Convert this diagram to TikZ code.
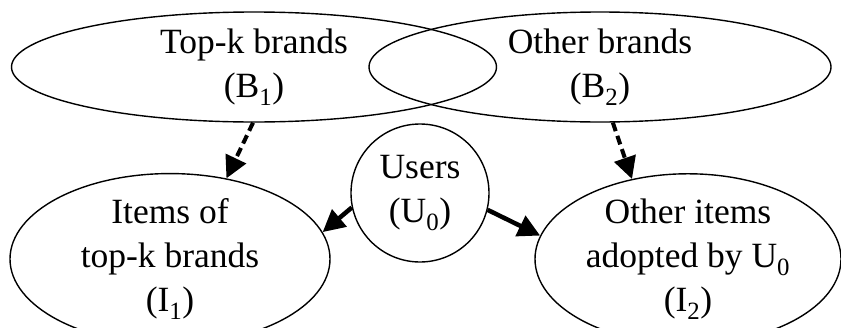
\documentclass[tikz,border=0pt]{standalone}
\usepackage{fontspec}
\setmainfont{Liberation Serif}
\usetikzlibrary{shapes.geometric,arrows.meta}
\begin{document}
\begin{tikzpicture}[x=1pt,y=-1pt,
  oval/.style={ellipse,draw,line width=1.4pt,inner sep=0pt,align=center,
    font=\fontsize{35.5}{44}\selectfont},
  dasharrow/.style={line width=4pt,dash pattern=on 9pt off 5pt,
    -{Triangle[length=22pt,width=22pt]}},
  solidarrow/.style={line width=4.5pt,-{Triangle[length=22pt,width=22pt]}}]
\useasboundingbox (0,0) rectangle (841,327);
\node[oval,minimum width=485pt,minimum height=110pt] (b1) at (254,67)
  {Top-k brands\\(B\textsubscript{1})};
\node[oval,minimum width=462pt,minimum height=110pt] (b2) at (600,67)
  {Other brands\\(B\textsubscript{2})};
\node[oval,circle,minimum size=138pt] (u0) at (420,193)
  {Users\\(U\textsubscript{0})};
\node[oval,minimum width=320pt,minimum height=132pt] (i1) at (170,259)
  {Items of\\top-k brands\\(I\textsubscript{1})};
\node[oval,minimum width=306pt,minimum height=132pt] (i2) at (688,259)
  {Other items\\adopted by U\textsubscript{0}\\(I\textsubscript{2})};
\draw[dasharrow] (b1.-91) -- (i1.55);
\draw[dasharrow] (b2.-77) -- (i2.125.6);
\draw[solidarrow] (u0.192) -- (i1.10.3);
\draw[solidarrow] (u0.-14.7) -- (i2.171.8);
\end{tikzpicture}
\end{document}
